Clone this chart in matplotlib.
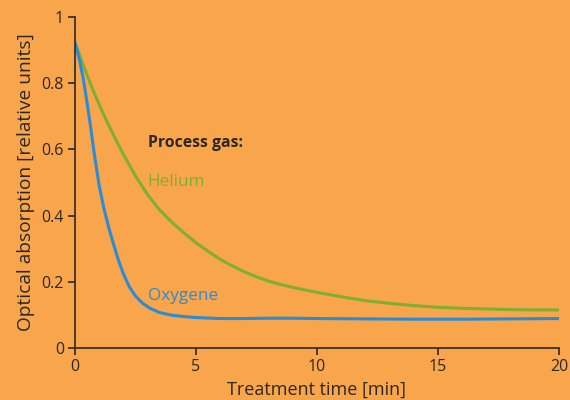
import matplotlib

matplotlib.use("Agg")

import matplotlib.pyplot as plt
from matplotlib.ticker import FuncFormatter

# values
helium_t = [0, 0.25, 0.5, 0.75, 1, 1.25, 1.5, 1.75, 2, 2.5, 3, 3.5, 4, 4.5, 5, 5.5, 6, 6.5, 7, 7.5, 8,
            8.5, 9, 10, 11, 12, 13, 14, 15, 16, 17, 18, 19, 20]
helium_y = [0.925, 0.872, 0.824, 0.778, 0.735, 0.695, 0.657, 0.62, 0.585, 0.52, 0.463, 0.417, 0.38, 0.348,
            0.318, 0.292, 0.268, 0.248, 0.23, 0.215, 0.202, 0.192, 0.183, 0.168, 0.155, 0.143, 0.135,
            0.128, 0.123, 0.12, 0.118, 0.116, 0.115, 0.115]

oxygene_t = [0, 0.1, 0.2, 0.35, 0.5, 0.65, 0.8, 1.0, 1.2, 1.4, 1.6, 1.8, 2.0, 2.25, 2.5, 2.8, 3.1, 3.5,
             4.0, 4.5, 5, 6, 7, 8, 9, 10, 12, 14, 16, 18, 20]
oxygene_y = [0.92, 0.895, 0.865, 0.81, 0.74, 0.665, 0.585, 0.49, 0.42, 0.362, 0.312, 0.264, 0.224, 0.184,
             0.157, 0.135, 0.12, 0.107, 0.099, 0.095, 0.092, 0.089, 0.089, 0.09, 0.09, 0.089, 0.088,
             0.087, 0.087, 0.088, 0.089]

bg = "#F9A54B"
green = "#7FAE34"
blue = "#2A8CD6"
dark = "#2B2826"

plt.rcParams["font.family"] = ["Open Sans", "DejaVu Sans"]

fig = plt.figure(figsize=(5.7, 4.0), dpi=100, facecolor=bg)
ax = fig.add_axes([0.1316, 0.13, 0.849, 0.8275], facecolor=bg)

ax.plot(helium_t, helium_y, color=green, lw=2.2, solid_capstyle="round", solid_joinstyle="round")
ax.plot(oxygene_t, oxygene_y, color=blue, lw=2.2, solid_capstyle="round", solid_joinstyle="round")

ax.set_xlim(0, 20)
ax.set_ylim(0, 1)
ax.set_xticks([0, 5, 10, 15, 20])
ax.set_yticks([0, 0.2, 0.4, 0.6, 0.8, 1])
ax.yaxis.set_major_formatter(FuncFormatter(lambda v, p: f"{v:g}"))

for s in ["top", "right"]:
    ax.spines[s].set_visible(False)
for s in ["left", "bottom"]:
    ax.spines[s].set_color(dark)
    ax.spines[s].set_linewidth(1.2)
ax.tick_params(colors=dark, labelsize=11.5, length=5, width=1.2, pad=3)

ax.set_xlabel("Treatment time [min]", fontsize=13, color=dark, labelpad=4)
ax.set_ylabel("Optical absorption [relative units]", fontsize=13.8, color=dark, labelpad=5)

ax.text(3.0, 0.62, "Process gas:", fontsize=11.3, fontweight="bold", color=dark, va="center")
ax.text(3.0, 0.5, "Helium", fontsize=12.3, color=green, va="center")
ax.text(3.0, 0.157, "Oxygene", fontsize=12.3, color=blue, va="center")

fig.savefig("out.png", dpi=100, facecolor=bg)
